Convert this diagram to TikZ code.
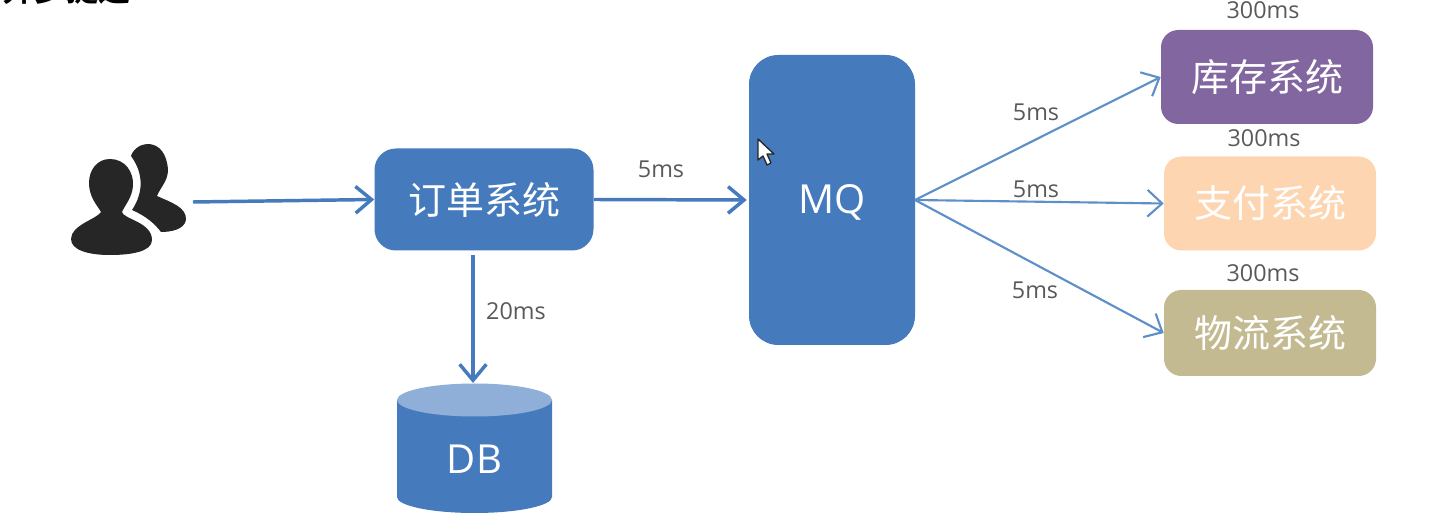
\documentclass[tikz,border=0pt]{standalone}
\usepackage{fontspec}
\setmainfont{Open Sans}
\newfontfamily\cjk{Noto Sans CJK SC}
\newfontfamily\cjkb{Noto Sans CJK SC Bold}
\usetikzlibrary{arrows.meta,shapes.geometric}
\definecolor{blueM}{HTML}{457BBD}
\definecolor{blueT}{HTML}{8FAFD8}
\definecolor{lineB}{HTML}{5E8FC8}
\definecolor{purp}{HTML}{8266A0}
\definecolor{peach}{HTML}{FDD5B1}
\definecolor{khaki}{HTML}{C4BA92}
\definecolor{lab}{HTML}{595959}
\definecolor{ink}{HTML}{262626}
\tikzset{
  sysbox/.style={rounded corners=#1,inner sep=0pt,text=white,font=\cjk\fontsize{28.5}{30}\selectfont},
  timelab/.style={text=lab,inner sep=0pt,font=\fontsize{17.5}{20}\selectfont},
  thickarrow/.style={draw=blueM,line width=2.6pt,-{Straight Barb[length=12pt,width=20pt,line width=2.6pt]}},
  thinarrow/.style={draw=lineB,line width=1.6pt,-{Straight Barb[length=11pt,width=20pt,line width=1.6pt]}},
  person/.style={fill=ink,draw=none},
}
\begin{document}
\begin{tikzpicture}[x=0.75pt,y=-0.75pt]
\useasboundingbox (0,0) rectangle (1435,523);
\clip (0,0) rectangle (1435,523);
% cut-off heading
\node[anchor=base west,inner sep=0pt,text=black,font=\cjkb\fontsize{24}{24}\selectfont] (head) at (2,1.5) {异步提速};
% people icon
\fill[person] (131,156) .. controls (136,140) and (166,136) .. (168,170) .. controls (168,181) and (160,188) .. (157,196)
  .. controls (170,202) and (187,207) .. (186,220) .. controls (184,230) and (170,232) .. (161,232)
  .. controls (155,224) and (146,216) .. (132,210) .. controls (140,198) and (147,178) .. (131,156) -- cycle;
\fill[person] (110,159) .. controls (125,159) and (134,172) .. (133,186) .. controls (132,198) and (125,205) .. (122,212)
  .. controls (123,219) and (152,222) .. (152,240) .. controls (152,252) and (130,255) .. (110,255)
  .. controls (88,255) and (71,250) .. (71,239) .. controls (71,225) and (97,219) .. (101,212)
  .. controls (97,205) and (89,197) .. (89,183) .. controls (89,170) and (97,159) .. (110,159) -- cycle;
\coordinate (usr) at (193,202);
% boxes
\node[sysbox=16pt,fill=blueM,minimum width=219*0.75pt,minimum height=102*0.75pt] (order) at (484,199.5) {订单系统};
\node[sysbox=22pt,fill=blueM,minimum width=166*0.75pt,minimum height=290*0.75pt,font=\fontsize{30}{32}\selectfont,text height=20.4pt,text depth=0pt] (mq) at (832,200) {MQ};
\node[sysbox=13pt,fill=purp,minimum width=212*0.75pt,minimum height=94*0.75pt] (stock) at (1267,77) {库存系统};
\node[sysbox=13pt,fill=peach,minimum width=212*0.75pt,minimum height=94*0.75pt] (pay) at (1270,203.5) {支付系统};
\node[sysbox=13pt,fill=khaki,minimum width=212*0.75pt,minimum height=86*0.75pt] (log) at (1270,333) {物流系统};
% database
\fill[blueM] (397,400) -- (397,497) arc[start angle=180,end angle=0,x radius=77.5,y radius=16] -- (552,400) -- cycle;
\fill[blueT] (474.5,400) ellipse[x radius=77.5,y radius=16.5];
\node[inner sep=0pt,text=white,font=\fontsize{30}{32}\selectfont] (db) at (474.5,459) {DB};
\coordinate (dbtop) at (473,383);
\coordinate (ordbot) at (473,255);
\coordinate (mqin) at ([xshift=-1.5pt]mq.west);
% arrows
\draw[thickarrow] (usr) -- (order.west);
\draw[thickarrow] (order.east) -- (mqin);
\draw[thickarrow] (ordbot) -- (dbtop);
\coordinate (fan) at (915,200);
\draw[thinarrow] (fan) -- (stock.west);
\draw[thinarrow] (fan) -- (pay.west);
\draw[thinarrow] (fan) -- (log.west);
% labels
\node[timelab] (t1) at (661,169) {5ms};
\node[timelab] (t2) at (516,311) {20ms};
\node[timelab] (t3) at (1036,112) {5ms};
\node[timelab] (t4) at (1036,189) {5ms};
\node[timelab] (t5) at (1035,290) {5ms};
\node[timelab] (t6) at (1263,10) {300ms};
\node[timelab] (t7) at (1264,138) {300ms};
\node[timelab] (t8) at (1263,273) {300ms};
% mouse cursor
\draw[fill=white,draw=ink,line width=1pt,line join=round] (758,139) -- (758,160) -- (763,156) -- (767,165) -- (771,163) -- (767,154) -- (774,154) -- cycle;
\end{tikzpicture}
\end{document}
